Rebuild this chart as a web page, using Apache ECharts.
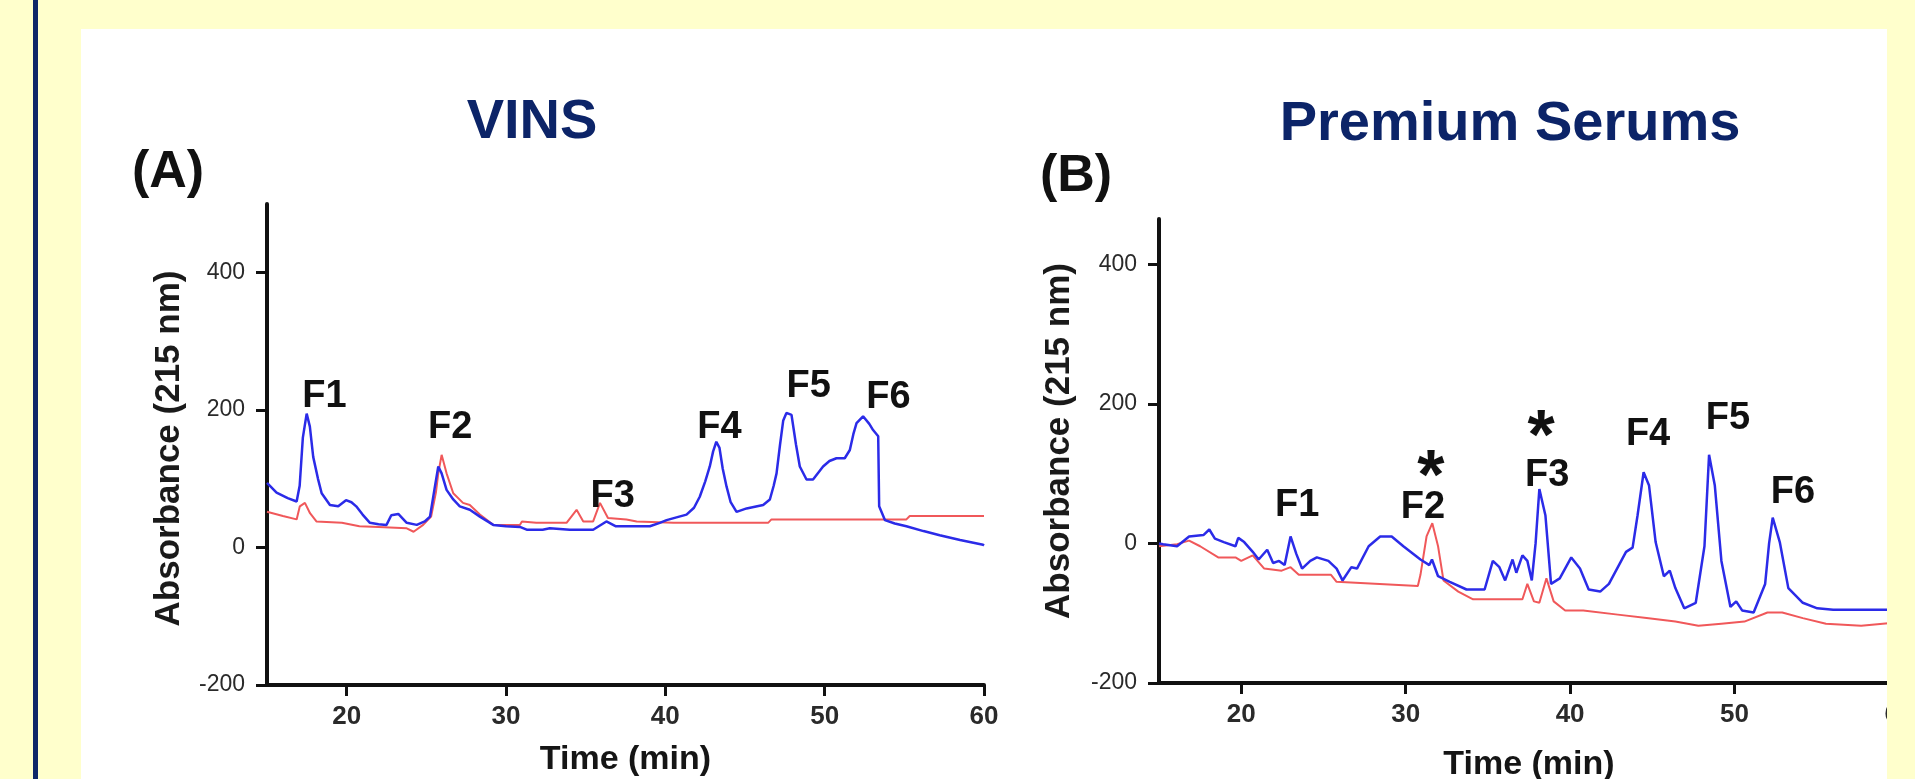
<!DOCTYPE html>
<html>
<head>
<meta charset="utf-8">
<script src="https://cdn.jsdelivr.net/npm/echarts@6/dist/echarts.min.js"></script>
<style>
  html, body { margin: 0; padding: 0; background: #ffffcc; width: 1915px; height: 779px; overflow: hidden; }
  #navy { position: absolute; left: 33px; top: 0; width: 5px; height: 779px; background: #0e2768; }
  #panel { position: absolute; left: 81px; top: 29px; width: 1806px; height: 750px; background: #ffffff; }
  #chart { position: absolute; left: 0; top: 0; width: 1915px; height: 779px; }
  #strip { position: absolute; left: 1887px; top: 0; width: 28px; height: 779px; background: #ffffcc; z-index: 10; }
</style>
</head>
<body>
<div id="navy"></div>
<div id="panel"></div>
<div id="chart"></div>
<div id="strip"></div>
<script>
// ---- data ----
const timeTicks = [20, 30, 40, 50, 60];
const absTicks = [-200, 0, 200, 400];

// Panel A: VINS  [time (min), absorbance]
const vinsBlue = [[15,94],[15.6,80],[16.3,72],[16.86,67],[17.05,90],[17.25,160],[17.49,195],[17.69,176],[17.9,132],[18.2,100],[18.43,79],[18.95,62],[19.47,60],[19.96,69],[20.3,66],[20.6,60],[21,48],[21.46,36],[22,34],[22.5,33],[22.8,47],[23.24,49],[23.77,36],[24.4,33],[24.9,38],[25.23,45],[25.54,89],[25.75,118],[25.96,108],[26.27,84],[26.69,70],[27.1,60],[27.73,55],[28.36,45],[29.2,33],[30,31],[30.87,30],[31.3,26],[32.3,26],[32.75,28],[34,26],[35.47,26],[36.3,38],[36.9,31],[37.5,31],[38.6,31],[39.03,31],[39.65,36],[40.08,40],[40.7,44],[41.33,48],[41.8,58],[42.16,74],[42.5,96],[42.79,118],[43.0,140],[43.2,154],[43.4,145],[43.6,115],[43.84,89],[44.1,66],[44.47,52],[45.1,57],[46.14,62],[46.56,70],[46.8,90],[46.98,108],[47.2,150],[47.4,185],[47.6,196],[47.92,193],[48.2,150],[48.44,118],[48.86,99],[49.27,99],[49.9,118],[50.3,126],[50.74,130],[51.26,130],[51.58,142],[51.8,165],[52.0,181],[52.41,191],[52.8,180],[53.04,171],[53.36,162],[53.42,60],[53.78,40],[54.4,35],[55.13,31],[56.2,24],[57.22,18],[58.5,11],[59.94,4],[60,3]];
const vinsRed = [[15,52],[16,46],[16.86,41],[17.06,60],[17.38,65],[17.7,50],[18.1,38],[19.7,36],[20.8,31],[22,30],[23.77,28],[24.2,23],[24.8,33],[25.3,45],[25.6,80],[25.75,108],[25.96,135],[26.27,108],[26.69,79],[27.3,65],[27.73,62],[28.36,48],[29.2,33],[30.87,33],[31,38],[31.9,36],[32.9,36],[33.8,36],[34.43,55],[34.85,38],[35.47,38],[35.9,65],[36.4,43],[37.56,41],[38.2,38],[40.5,36],[46.45,36],[46.66,41],[55.13,41],[55.34,46],[60,46]];
const vinsPeakNames = ['F1','F2','F3','F4','F5','F6'];
const vinsPeakTime = [18.6, 26.5, 36.7, 43.4, 49.0, 54.0];
const vinsPeakAbs = [220, 174, 75, 175, 234, 219];

// Panel B: Premium Serums
const premBlue = [[15,0],[15.25,-1],[16.1,-4],[16.83,10],[17.7,12],[18.06,20],[18.4,7],[18.94,2],[19.65,-4],[19.82,8],[20.18,2],[20.7,-12],[21.06,-23],[21.58,-9],[21.94,-28],[22.3,-25],[22.64,-31],[23.0,10],[23.35,-15],[23.7,-36],[24.2,-25],[24.6,-20],[25.3,-25],[25.8,-36],[26.16,-53],[26.7,-34],[27.04,-36],[27.75,-4],[28.45,10],[29.15,10],[29.86,-4],[30.9,-23],[31.44,-31],[31.6,-23],[31.97,-47],[32.68,-55],[33.7,-66],[34.8,-66],[35.3,-25],[35.7,-34],[36.05,-53],[36.5,-23],[36.73,-42],[37.1,-17],[37.4,-25],[37.67,-53],[37.9,0],[38.13,78],[38.5,40],[38.84,-58],[39.37,-50],[40.07,-20],[40.6,-36],[41.13,-66],[41.83,-69],[42.36,-58],[43.4,-12],[43.8,-6],[44.1,40],[44.47,102],[44.8,83],[45.2,2],[45.7,-47],[46.06,-39],[46.4,-64],[46.94,-93],[47.64,-85],[48.17,-4],[48.45,127],[48.8,83],[49.2,-25],[49.75,-91],[50.1,-83],[50.46,-96],[51.16,-99],[51.86,-58],[52.1,0],[52.32,37],[52.75,2],[53.27,-64],[54.15,-85],[55.03,-93],[56,-95],[60,-95]];
const premRed = [[15,-4],[16.1,-1],[16.83,4],[17.5,-4],[18.6,-20],[19.65,-20],[20,-25],[20.7,-17],[21.4,-36],[22.46,-39],[23.0,-34],[23.5,-45],[25.46,-45],[25.8,-55],[30.74,-61],[30.9,-45],[31.27,10],[31.62,29],[31.97,-4],[32.3,-53],[33.2,-69],[34.1,-80],[37.1,-80],[37.4,-58],[37.8,-83],[38.13,-85],[38.56,-50],[39.0,-83],[39.7,-96],[40.8,-96],[42.9,-102],[44.65,-107],[46.4,-112],[47.8,-118],[49.2,-115],[50.6,-112],[52.0,-99],[52.9,-99],[54.15,-107],[55.56,-115],[57.7,-118],[60,-113]];
const premPeakNames = ['F1','F2','F3','F4','F5','F6'];
const premPeakTime = [23.4, 31.05, 38.6, 44.74, 49.6, 53.55];
const premPeakAbs = [54, 51, 98, 156, 179, 73];
const premStarTime = [31.54, 38.23];
const premStarAbs = [92, 148];

// ---- chart ----
const FONT = '"Liberation Sans", Arial, sans-serif';
const BLUE = '#2b2be8';
const RED = '#f0585a';

function xAx(gridIndex, gap) {
  return {
    type: 'value', gridIndex: gridIndex, min: 15, max: 60,
    name: 'Time (min)', nameLocation: 'middle', nameGap: gap,
    nameTextStyle: { fontFamily: FONT, fontWeight: 'bold', fontSize: 34, color: '#151515' },
    axisLine: { onZero: false, lineStyle: { color: '#111', width: 4 } },
    axisTick: { show: true, length: 11, customValues: timeTicks, lineStyle: { color: '#111', width: 3 } },
    axisLabel: { customValues: timeTicks, fontFamily: FONT, fontSize: 26, fontWeight: 'bold', color: '#2a2a2a', margin: 19 },
    splitLine: { show: false }
  };
}
function yAx(gridIndex, max, gap, pad) {
  return {
    type: 'value', gridIndex: gridIndex, min: -200, max: max,
    name: 'Absorbance (215 nm)', nameLocation: 'middle', nameGap: gap, nameRotate: 90,
    nameTextStyle: { fontFamily: FONT, fontWeight: 'bold', fontSize: 35, color: '#1a1a1a', padding: pad },
    axisLine: { show: true, onZero: false, lineStyle: { color: '#111', width: 4 } },
    axisTick: { show: true, length: 11, customValues: absTicks, lineStyle: { color: '#111', width: 3 } },
    axisLabel: { customValues: absTicks, fontFamily: FONT, fontSize: 23, color: '#2a2a2a', margin: 22 },
    splitLine: { show: false }
  };
}
function peakData(names, ts, vs) {
  return names.map(function (n, i) { return { name: n, value: [ts[i], vs[i]] }; });
}
function labelSeries(xi, data, size) {
  return {
    type: 'scatter', xAxisIndex: xi, yAxisIndex: xi, data: data, symbolSize: 1,
    itemStyle: { color: 'rgba(0,0,0,0)' }, silent: true, z: 5,
    label: { show: true, position: 'inside', formatter: '{b}', fontFamily: FONT, fontWeight: 'bold', fontSize: size, color: '#111', opacity: 1 }
  };
}
function lineSeries(xi, data, color, w) {
  return { type: 'line', xAxisIndex: xi, yAxisIndex: xi, data: data, showSymbol: false, symbol: 'none',
    lineStyle: { color: color, width: w }, silent: true };
}

const chart = echarts.init(document.getElementById('chart'), null, { renderer: 'canvas' });
chart.setOption({
  animation: false,
  backgroundColor: 'transparent',
  grid: [
    { left: 267, top: 204, width: 717, height: 481, outerBoundsMode: 'none', containLabel: false },
    { left: 1159, top: 219, width: 740, height: 464, outerBoundsMode: 'none', containLabel: false }
  ],
  xAxis: [xAx(0, 58), xAx(1, 65)],
  yAxis: [yAx(0, 500, 80, [0, 8, 0, 0]), yAx(1, 465, 82, [0, 0, 0, 20])],
  graphic: [
    { type: 'text', x: 532, y: 123, style: { text: 'VINS', font: 'bold 56px ' + FONT, fill: '#0c2468', textAlign: 'center', textVerticalAlign: 'middle' } },
    { type: 'text', x: 1510, y: 125, style: { text: 'Premium Serums', font: 'bold 56px ' + FONT, fill: '#0c2468', textAlign: 'center', textVerticalAlign: 'middle' } },
    { type: 'text', x: 132, y: 173, style: { text: '(A)', font: 'bold 52px ' + FONT, fill: '#111', textAlign: 'left', textVerticalAlign: 'middle' } },
    { type: 'text', x: 1040, y: 177, style: { text: '(B)', font: 'bold 52px ' + FONT, fill: '#111', textAlign: 'left', textVerticalAlign: 'middle' } }
  ],
  series: [
    lineSeries(0, vinsRed, RED, 2),
    lineSeries(0, vinsBlue, BLUE, 2.5),
    lineSeries(1, premRed, RED, 2),
    lineSeries(1, premBlue, BLUE, 2.5),
    labelSeries(0, peakData(vinsPeakNames, vinsPeakTime, vinsPeakAbs), 38),
    labelSeries(1, peakData(premPeakNames, premPeakTime, premPeakAbs), 38),
    labelSeries(1, peakData(['*', '*'], premStarTime, premStarAbs), 70)
  ]
});
</script>
</body>
</html>
